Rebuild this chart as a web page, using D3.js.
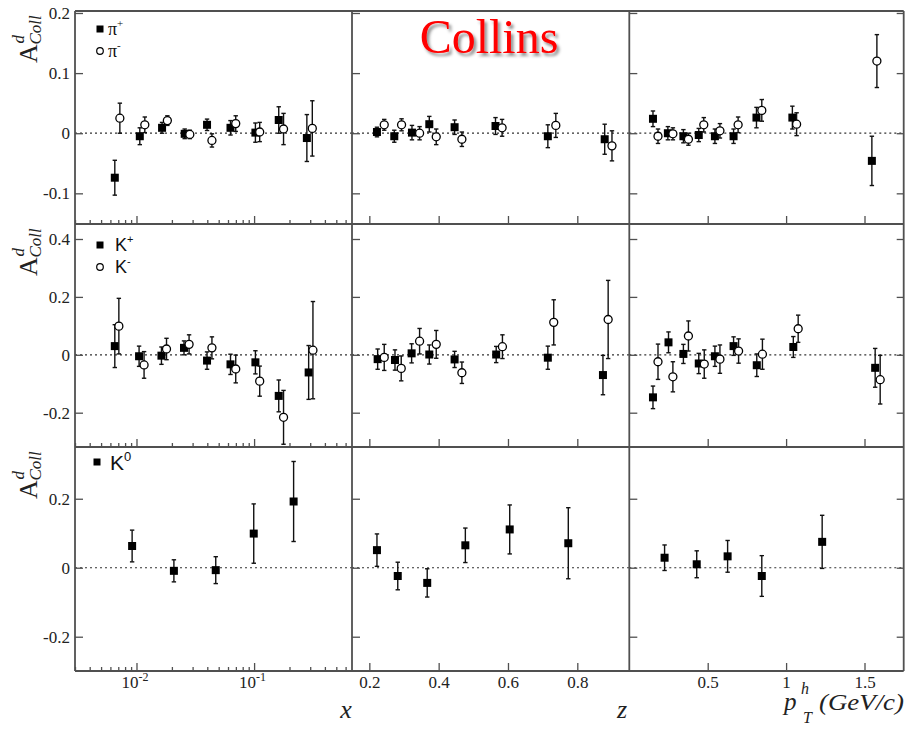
<!DOCTYPE html>
<html><head><meta charset="utf-8">
<script src="https://cdn.jsdelivr.net/npm/d3@7"></script>
<style>body{margin:0;background:#fff}</style>
</head><body>
<svg id="chart" width="906" height="733"></svg>
<script>
// Collins asymmetry on a deuteron target vs x, z and p_T^h

// --- pions ---
const xPiPos = [0.00654, 0.01067, 0.0165, 0.0257, 0.0398, 0.063, 0.1026, 0.162, 0.281];
const aPiPosX = [-0.074, -0.005, 0.009, -0.001, 0.014, 0.009, 0.001, 0.022, -0.008];
const ePiPosX = [0.029, 0.014, 0.009, 0.008, 0.0095, 0.012, 0.016, 0.022, 0.039];
const xPiNeg = [0.00722, 0.01177, 0.0183, 0.0284, 0.0438, 0.0698, 0.1116, 0.178, 0.3126];
const aPiNegX = [0.025, 0.014, 0.021, -0.002, -0.012, 0.016, 0.002, 0.007, 0.008];
const ePiNegX = [0.025, 0.013, 0.008, 0.007, 0.011, 0.013, 0.016, 0.026, 0.046];

const zPiPos = [0.222, 0.272, 0.323, 0.373, 0.446, 0.564, 0.715, 0.879];
const aPiPosZ = [0.002, -0.005, 0.001, 0.015, 0.010, 0.012, -0.005, -0.010];
const ePiPosZ = [0.008, 0.010, 0.012, 0.013, 0.012, 0.014, 0.019, 0.025];
const zPiNeg = [0.243, 0.293, 0.345, 0.393, 0.467, 0.583, 0.738, 0.900];
const aPiNegZ = [0.014, 0.014, 0.000, -0.006, -0.010, 0.009, 0.013, -0.021];
const ePiNegZ = [0.009, 0.010, 0.011, 0.013, 0.012, 0.014, 0.020, 0.025];

const ptPiPos = [0.151, 0.246, 0.345, 0.443, 0.546, 0.665, 0.811, 1.040, 1.547];
const aPiPosPt = [0.024, 0.000, -0.005, -0.003, -0.005, -0.005, 0.026, 0.026, -0.046];
const ePiPosPt = [0.013, 0.011, 0.011, 0.011, 0.012, 0.012, 0.017, 0.019, 0.041];
const ptPiNeg = [0.183, 0.278, 0.377, 0.475, 0.578, 0.694, 0.845, 1.067, 1.579];
const aPiNegPt = [-0.005, -0.001, -0.010, 0.014, 0.004, 0.014, 0.038, 0.015, 0.120];
const ePiNegPt = [0.012, 0.010, 0.010, 0.012, 0.012, 0.013, 0.018, 0.019, 0.044];

// --- charged kaons ---
const xKPos = [0.00654, 0.01052, 0.0163, 0.02535, 0.0398, 0.063, 0.1026, 0.162, 0.291];
const aKPosX = [0.030, -0.005, -0.003, 0.024, -0.020, -0.033, -0.026, -0.142, -0.061];
const eKPosX = [0.074, 0.035, 0.030, 0.024, 0.030, 0.035, 0.040, 0.055, 0.093];
const xKNeg = [0.00708, 0.0116, 0.0180, 0.0280, 0.0438, 0.0698, 0.1116, 0.178, 0.3165];
const aKNegX = [0.099, -0.035, 0.020, 0.036, 0.024, -0.049, -0.091, -0.216, 0.016];
const eKNegX = [0.096, 0.046, 0.037, 0.033, 0.038, 0.048, 0.052, 0.093, 0.168];

const zKPos = [0.224, 0.274, 0.322, 0.373, 0.446, 0.566, 0.715, 0.874];
const aKPosZ = [-0.015, -0.018, 0.005, 0.001, -0.016, 0.001, -0.010, -0.070];
const eKPosZ = [0.035, 0.035, 0.033, 0.033, 0.028, 0.028, 0.040, 0.068];
const zKNeg = [0.243, 0.292, 0.345, 0.393, 0.467, 0.584, 0.732, 0.889];
const aKNegZ = [-0.009, -0.047, 0.047, 0.036, -0.062, 0.028, 0.112, 0.122];
const eKNegZ = [0.045, 0.043, 0.044, 0.048, 0.037, 0.041, 0.078, 0.135];

const ptKPos = [0.151, 0.250, 0.345, 0.443, 0.546, 0.665, 0.813, 1.046, 1.568];
const aKPosPt = [-0.147, 0.043, 0.003, -0.030, -0.005, 0.030, -0.036, 0.027, -0.045];
const eKPosPt = [0.039, 0.036, 0.033, 0.035, 0.035, 0.032, 0.039, 0.036, 0.067];
const ptKNeg = [0.183, 0.278, 0.377, 0.478, 0.578, 0.697, 0.849, 1.077, 1.600];
const aKNegPt = [-0.024, -0.076, 0.065, -0.032, -0.015, 0.013, 0.002, 0.090, -0.086];
const eKNegPt = [0.061, 0.052, 0.052, 0.049, 0.049, 0.042, 0.052, 0.047, 0.084];

// --- neutral kaons ---
const xK0 = [0.00918, 0.0208, 0.0472, 0.0993, 0.2168];
const aK0X = [0.063, -0.009, -0.007, 0.099, 0.192];
const eK0X = [0.046, 0.032, 0.039, 0.086, 0.116];
const zK0 = [0.222, 0.282, 0.367, 0.477, 0.605, 0.774];
const aK0Z = [0.051, -0.024, -0.044, 0.065, 0.111, 0.071];
const eK0Z = [0.047, 0.040, 0.041, 0.050, 0.071, 0.103];
const ptK0 = [0.225, 0.430, 0.627, 0.845, 1.230];
const aK0Pt = [0.029, 0.010, 0.033, -0.024, 0.075];
const eK0Pt = [0.037, 0.039, 0.046, 0.059, 0.077];

// axis ticks
const yTicksPi = [-0.1, 0, 0.1, 0.2];
const yTicksK = [-0.2, 0, 0.2, 0.4];
const yTicksK0 = [-0.2, 0, 0.2];
const xMajorTicks = [0.01, 0.1];
const zTicks = [0.2, 0.4, 0.6, 0.8];
const ptTicks = [0.5, 1, 1.5];

const zip = (xs, ys, es) => xs.map((v, i) => ({x: v, y: ys[i], e: es[i]}));

// ---- layout ----
const svg = d3.select("#chart");
const serif = "'Liberation Serif', 'Times New Roman', Times, serif";
const sans = "'Liberation Sans', Arial, Helvetica, sans-serif";
const frameColor = "#505050";

const colX = [75, 352, 629.3, 903.7];
const rowY = [11, 224, 447, 671];

const xScales = [
  d3.scaleLog().domain([0.003, 0.68]).range([colX[0], colX[1]]),
  d3.scaleLinear().domain([0.15, 0.95]).range([colX[1], colX[2]]),
  d3.scaleLinear().domain([0, 1.75]).range([colX[2], colX[3]])
];
const yScales = [
  d3.scaleLinear().domain([-0.151, 0.2033]).range([rowY[1], rowY[0]]),
  d3.scaleLinear().domain([-0.3185, 0.4518]).range([rowY[2], rowY[1]]),
  d3.scaleLinear().domain([-0.2994, 0.35]).range([rowY[3], rowY[2]])
];
const yTickSets = [yTicksPi, yTicksK, yTicksK0];

const rows = [
  {
    legend: [{label: "π", sup: "+", filled: true}, {label: "π", sup: "-", filled: false}],
    legendFont: serif, legendSize: 18, legendPos: [100, 29], textGap: 8,
    cols: [
      [{d: zip(xPiPos, aPiPosX, ePiPosX), filled: true}, {d: zip(xPiNeg, aPiNegX, ePiNegX), filled: false}],
      [{d: zip(zPiPos, aPiPosZ, ePiPosZ), filled: true}, {d: zip(zPiNeg, aPiNegZ, ePiNegZ), filled: false}],
      [{d: zip(ptPiPos, aPiPosPt, ePiPosPt), filled: true}, {d: zip(ptPiNeg, aPiNegPt, ePiNegPt), filled: false}]
    ]
  },
  {
    legend: [{label: "K", sup: "+", filled: true}, {label: "K", sup: "-", filled: false}],
    legendFont: sans, legendSize: 18, legendPos: [100, 245], textGap: 15,
    cols: [
      [{d: zip(xKPos, aKPosX, eKPosX), filled: true}, {d: zip(xKNeg, aKNegX, eKNegX), filled: false}],
      [{d: zip(zKPos, aKPosZ, eKPosZ), filled: true}, {d: zip(zKNeg, aKNegZ, eKNegZ), filled: false}],
      [{d: zip(ptKPos, aKPosPt, eKPosPt), filled: true}, {d: zip(ptKNeg, aKNegPt, eKNegPt), filled: false}]
    ]
  },
  {
    legend: [{label: "K", sup: "0", filled: true}],
    legendFont: sans, legendSize: 21, legendPos: [97, 462], textGap: 13,
    cols: [
      [{d: zip(xK0, aK0X, eK0X), filled: true}],
      [{d: zip(zK0, aK0Z, eK0Z), filled: true}],
      [{d: zip(ptK0, aK0Pt, eK0Pt), filled: true}]
    ]
  }
];

// drop shadow for the title
const defs = svg.append("defs");
const f = defs.append("filter").attr("id", "shadow").attr("x", "-10%").attr("y", "-10%").attr("width", "130%").attr("height", "140%");
f.append("feDropShadow").attr("dx", 2.5).attr("dy", 3).attr("stdDeviation", 1.6)
  .attr("flood-color", "#000").attr("flood-opacity", 0.45);

function styleAxis(g) {
  g.attr("font-family", null).attr("font-size", null);
  g.select(".domain").remove();
  g.selectAll(".tick line").attr("stroke", frameColor).attr("stroke-width", 1.3);
  g.selectAll(".tick text").attr("fill", "#222")
    .style("font-family", serif).style("font-size", "17px");
}

rows.forEach((row, ri) => {
  const y = yScales[ri];
  const top = rowY[ri], bottom = rowY[ri + 1];

  row.cols.forEach((series, ci) => {
    const x = xScales[ci];
    const left = colX[ci], right = colX[ci + 1];
    const panel = svg.append("g");

    // zero line
    panel.append("line")
      .attr("x1", left).attr("x2", right).attr("y1", y(0)).attr("y2", y(0))
      .attr("stroke", "#333").attr("stroke-width", 1.2).attr("stroke-dasharray", "2,3");

    // left ticks (inward)
    const yAxis = d3.axisLeft(y).tickValues(yTickSets[ri]).tickSizeInner(-8).tickSizeOuter(0).tickPadding(5)
      .tickFormat(ci === 0 ? (v => v === 0 ? "0" : String(v)) : () => "");
    panel.append("g").attr("transform", `translate(${left},0)`).call(yAxis).call(styleAxis);
    if (ci === 2) {
      const yAxisR = d3.axisRight(y).tickValues(yTickSets[ri]).tickSizeInner(-7).tickSizeOuter(0).tickFormat(() => "");
      panel.append("g").attr("transform", `translate(${right},0)`).call(yAxisR).call(styleAxis);
    }

    // bottom ticks (inward)
    const showLabels = ri === 2;
    if (ci === 0) {
      const minor = x.ticks().filter(v => !xMajorTicks.includes(+v.toPrecision(3)));
      const minorAxis = d3.axisBottom(x).tickValues(minor).tickSizeInner(-4).tickSizeOuter(0).tickFormat(() => "");
      panel.append("g").attr("transform", `translate(0,${bottom})`).call(minorAxis).call(styleAxis);
      const majorAxis = d3.axisBottom(x).tickValues(xMajorTicks).tickSizeInner(-8).tickSizeOuter(0).tickPadding(5)
        .tickFormat(() => "");
      const g = panel.append("g").attr("transform", `translate(0,${bottom})`).call(majorAxis).call(styleAxis);
      if (showLabels) {
        g.selectAll(".tick text").each(function (v) {
          const t = d3.select(this).attr("dy", "0.71em").attr("dx", "-2");
          t.append("tspan").text("10");
          t.append("tspan").style("font-size", "12px").attr("dy", "-0.55em").text(String(Math.round(Math.log10(v))));
        });
      }
    } else {
      const ticks = ci === 1 ? zTicks : ptTicks;
      const ax = d3.axisBottom(x).tickValues(ticks).tickSizeInner(-8).tickSizeOuter(0).tickPadding(5)
        .tickFormat(showLabels ? (v => String(v)) : () => "");
      panel.append("g").attr("transform", `translate(0,${bottom})`).call(ax).call(styleAxis);
    }

    // data: error bars then markers
    series.forEach(s => {
      const pts = panel.append("g").selectAll("g").data(s.d).join("g");
      pts.append("line")
        .attr("x1", d => x(d.x)).attr("x2", d => x(d.x))
        .attr("y1", d => y(d.y - d.e)).attr("y2", d => y(d.y + d.e))
        .attr("stroke", "#111").attr("stroke-width", 1.4);
      [d => y(d.y - d.e), d => y(d.y + d.e)].forEach(fy => {
        pts.append("line")
          .attr("x1", d => x(d.x) - 2.2).attr("x2", d => x(d.x) + 2.2)
          .attr("y1", fy).attr("y2", fy)
          .attr("stroke", "#111").attr("stroke-width", 1.4);
      });
      if (s.filled) {
        pts.append("rect")
          .attr("x", d => x(d.x) - 4).attr("y", d => y(d.y) - 4)
          .attr("width", 8).attr("height", 8).attr("fill", "#000");
      } else {
        pts.append("circle")
          .attr("cx", d => x(d.x)).attr("cy", d => y(d.y)).attr("r", 4)
          .attr("fill", "#fff").attr("stroke", "#000").attr("stroke-width", 1.3);
      }
    });
  });

  // legend
  row.legend.forEach((L, i) => {
    const [lx, ly0] = row.legendPos;
    const ly = ly0 + i * 22;
    if (L.filled) {
      svg.append("rect").attr("x", lx - 3.5).attr("y", ly - 3.5).attr("width", 7).attr("height", 7).attr("fill", "#000");
    } else {
      svg.append("circle").attr("cx", lx).attr("cy", ly).attr("r", 3.3)
        .attr("fill", "#fff").attr("stroke", "#000").attr("stroke-width", 1.2);
    }
    const t = svg.append("text").attr("x", lx + row.textGap).attr("y", ly + (ri === 2 ? 8 : 6))
      .style("font-family", row.legendFont).style("font-size", row.legendSize + "px").attr("fill", "#111");
    t.append("tspan").text(L.label);
    t.append("tspan").style("font-size", Math.round(row.legendSize * 0.62) + "px").attr("dy", "-0.7em").text(L.sup);
  });

  // y-axis title: A^d_Coll, rotated
  const ty = svg.append("g").attr("transform", `translate(37,${top + 52}) rotate(-90)`)
    .style("font-family", serif).attr("fill", "#222");
  ty.append("text").attr("x", 0).attr("y", 0).style("font-size", "26px").text("A");
  ty.append("text").attr("x", 18.5).attr("y", 4).style("font-size", "17px").style("font-style", "italic").text("Coll");
  ty.append("text").attr("x", 19.5).attr("y", -13).style("font-size", "17px").style("font-style", "italic").text("d");
});

// panel frames
const frame = svg.append("g").attr("fill", "none").attr("stroke", frameColor).attr("stroke-width", 1.8);
colX.forEach(cx => frame.append("line").attr("x1", cx).attr("x2", cx).attr("y1", rowY[0]).attr("y2", rowY[3]));
rowY.forEach(ry => frame.append("line").attr("x1", colX[0]).attr("x2", colX[3]).attr("y1", ry).attr("y2", ry));

// axis titles
const titleStyle = sel => sel.style("font-family", serif).style("font-style", "italic").attr("fill", "#222");
svg.append("text").attr("x", 346).attr("y", 718).attr("text-anchor", "middle")
  .call(titleStyle).style("font-size", "26px").text("x");
svg.append("text").attr("x", 622).attr("y", 718).attr("text-anchor", "middle")
  .call(titleStyle).style("font-size", "26px").text("z");
svg.append("text").attr("x", 784).attr("y", 710).call(titleStyle).style("font-size", "25px").text("p");
svg.append("text").attr("x", 801).attr("y", 694).call(titleStyle).style("font-size", "16px").text("h");
svg.append("text").attr("x", 803).attr("y", 723).call(titleStyle).style("font-size", "16px").text("T");
svg.append("text").attr("x", 819).attr("y", 710).call(titleStyle).style("font-size", "23px")
  .attr("textLength", 85).attr("lengthAdjust", "spacingAndGlyphs").text("(GeV/c)");

// title
svg.append("text").attr("x", 489).attr("y", 53).attr("text-anchor", "middle")
  .style("font-family", serif).style("font-size", "48px").attr("fill", "#ff0000")
  .attr("filter", "url(#shadow)").text("Collins");
</script>
</body></html>
